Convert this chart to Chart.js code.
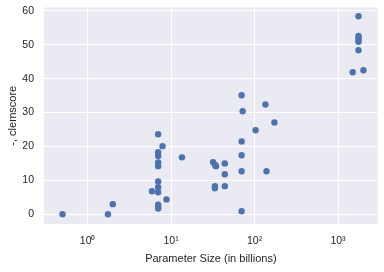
<!doctype html>
<html>
<head>
	<title>clemscore vs parameter size</title>
	<script src="https://cdn.jsdelivr.net/npm/chart.js@4"></script>
	<style>
	html, body { margin: 0; padding: 0; background: #fff; }
	#container { width: 384px; height: 272px; }
	</style>
</head>
<body>
	<div id="container">
		<canvas id="canvas" width="384" height="272"></canvas>
	</div>
	<script>
		// values (x = billions of params, y = clemscore)
		const paramSize = [
			0.5, 1.75, 2,
			7, 7.9, 7, 7, 7, 7, 13.5, 7, 7, 5.9, 7, 8.8, 7, 7, 7,
			70, 135, 72, 173, 103, 70, 70,
			31.8, 33.5, 34.5, 44, 44, 70, 139, 33.5, 33.5, 44, 70,
			1760, 1760, 1760, 1760, 1760, 1760, 1500, 2018
		];
		const clemscore = [
			0, 0, 3,
			23.6, 20.1, 18.3, 17.2, 15.3, 14.2, 16.8, 9.7, 8.0, 6.8, 6.5, 4.4, 2.8, 2.2, 1.7,
			35.1, 32.4, 30.4, 27.1, 24.8, 21.5, 17.4,
			15.4, 14.6, 14.2, 15.0, 11.8, 12.7, 12.7, 8.3, 7.7, 8.3, 0.9,
			58.4, 52.6, 52.0, 51.4, 50.9, 48.4, 41.9, 42.5
		];
		const xTicks = [1, 10, 100, 1000];
		const xTickLabels = ['10\u2070', '10\u00b9', '10\u00b2', '10\u00b3'];
		const yTicks = [0, 10, 20, 30, 40, 50, 60];

		const points = paramSize.map((x, i) => ({x: x, y: clemscore[i]}));

		const bgPlugin = {
			id: 'bg',
			beforeDraw(chart) {
				const a = chart.chartArea;
				const c = chart.ctx;
				c.save();
				c.fillStyle = '#eaeaf2';
				c.fillRect(a.left, a.top, a.right - a.left, a.bottom - a.top);
				c.restore();
			}
		};

		const tickColor = '#262626';
		const tickFont = {family: 'Liberation Sans, Arial, sans-serif', size: 10.5};

		new Chart(document.getElementById('canvas'), {
			type: 'scatter',
			data: {
				datasets: [{
					data: points,
					backgroundColor: '#4c72b0',
					borderColor: '#4c72b0',
					borderWidth: 0,
					pointRadius: 3.2
				}]
			},
			options: {
				responsive: false,
				animation: false,
				layout: {padding: {left: 0, top: 7.5, right: 6.3, bottom: 0}},
				plugins: {legend: {display: false}, tooltip: {enabled: false}},
				scales: {
					x: {
						type: 'logarithmic',
						min: 0.33,
						max: 2990,
						afterBuildTicks(scale) {
							scale.ticks = xTicks.map(v => ({value: v}));
						},
						afterFit(scale) {
							scale.height = 48;
							scale.paddingLeft = 0;
							scale.paddingRight = 0;
						},
						border: {display: false},
						grid: {color: '#ffffff', lineWidth: 1, drawTicks: false},
						ticks: {
							color: tickColor,
							font: tickFont,
							padding: 11,
							maxRotation: 0,
							callback(v) {
								const i = xTicks.indexOf(v);
								return i >= 0 ? xTickLabels[i] : '';
							}
						},
						title: {
							display: true,
							text: 'Parameter Size (in billions)',
							color: tickColor,
							font: {family: 'Liberation Sans, Arial, sans-serif', size: 11},
							padding: {top: 0, bottom: 6}
						}
					},
					y: {
						min: -2.86,
						max: 61,
						afterBuildTicks(scale) {
							scale.ticks = yTicks.map(v => ({value: v}));
						},
						afterFit(scale) {
							scale.width = 44;
							scale.paddingTop = 0;
							scale.paddingBottom = 0;
						},
						border: {display: false},
						grid: {color: '#ffffff', lineWidth: 1, drawTicks: false},
						ticks: {color: tickColor, font: tickFont, padding: 10},
						title: {
							display: true,
							text: '-, clemscore',
							color: tickColor,
							font: {family: 'Liberation Sans, Arial, sans-serif', size: 11},
							padding: {top: 6, bottom: 0}
						}
					}
				}
			},
			plugins: [bgPlugin]
		});
	</script>
</body>
</html>
